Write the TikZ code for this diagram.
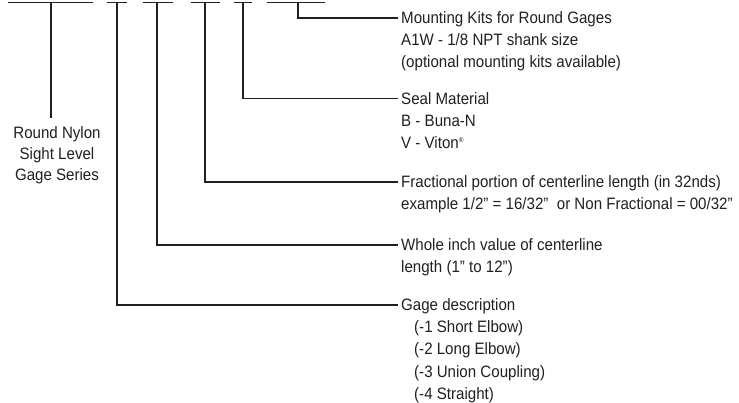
\documentclass[tikz,border=0pt]{standalone}
\usepackage{fontspec}
\setmainfont[FakeStretch=0.915]{Liberation Sans}
\definecolor{ink}{HTML}{231F20}
\begin{document}
\begin{tikzpicture}[x=1pt,y=-1pt,
  wire/.style={draw=ink,line width=1.8pt},
  lbl/.style={anchor=west,inner ysep=0pt,inner xsep=3pt,text=ink,text height=12pt,text depth=0pt,font=\fontsize{16.5}{22}\selectfont},
  clbl/.style={anchor=center,inner sep=0pt,text=ink,text height=12pt,text depth=0pt,font=\fontsize{16.5}{22}\selectfont}]
\useasboundingbox (0,0) rectangle (739,403);
% top bars
\foreach \n/\l/\r/\c in {1/8/93/51,2/107/127/117,3/143/173/157,4/191/220/205,5/234/252/243,6/267/325/298}{
  \coordinate (l\n) at (\l,2.5);
  \coordinate (r\n) at (\r,2.5);
  \coordinate (t\n) at (\c,2.5);
  \draw[wire] (l\n) -- (r\n);
}
% labels
\node[lbl] (mk) at (398,18) {Mounting Kits for Round Gages};
\node[lbl] (mk2) at (398,40) {A1W - 1/8 NPT shank size};
\node[lbl] (mk3) at (398,62) {(optional mounting kits available)};
\node[lbl] (seal) at (398,98.5) {Seal Material};
\node[lbl] (seal2) at (398,120.5) {B - Buna-N};
\node[lbl] (seal3) at (398,142.5) {V - Viton\raisebox{5.5pt}{\fontsize{7}{7}\selectfont ®}};
\node[lbl] (frac) at (398,182) {Fractional portion of centerline length (in 32nds)};
\node[lbl] (frac2) at (398,204) {example 1/2” = 16/32”\ \ or Non Fractional = 00/32”};
\node[lbl] (whole) at (398,245) {Whole inch value of centerline};
\node[lbl] (whole2) at (398,267) {length (1” to 12”)};
\node[lbl] (gage) at (398,305) {Gage description};
\node[lbl] (gage1) at (411,327) {(-1 Short Elbow)};
\node[lbl] (gage2) at (411,349) {(-2 Long Elbow)};
\node[lbl] (gage3) at (411,371) {(-3 Union Coupling)};
\node[lbl] (gage4) at (411,393) {(-4 Straight)};
\node[clbl] (ser1) at (57,133) {Round Nylon};
\node[clbl] (ser2) at (57,154) {Sight Level};
\node[clbl] (ser3) at (57,175) {Gage Series};
% connectors
\draw[wire] (t1) -- (t1 |- 0,118);
\draw[wire] (t2) |- (gage.west);
\draw[wire] (t3) |- (whole.west);
\draw[wire] (t4) |- (frac.west);
\draw[wire] (t5) |- (seal.west);
\draw[wire] (t6) |- (mk.west);
\end{tikzpicture}
\end{document}
